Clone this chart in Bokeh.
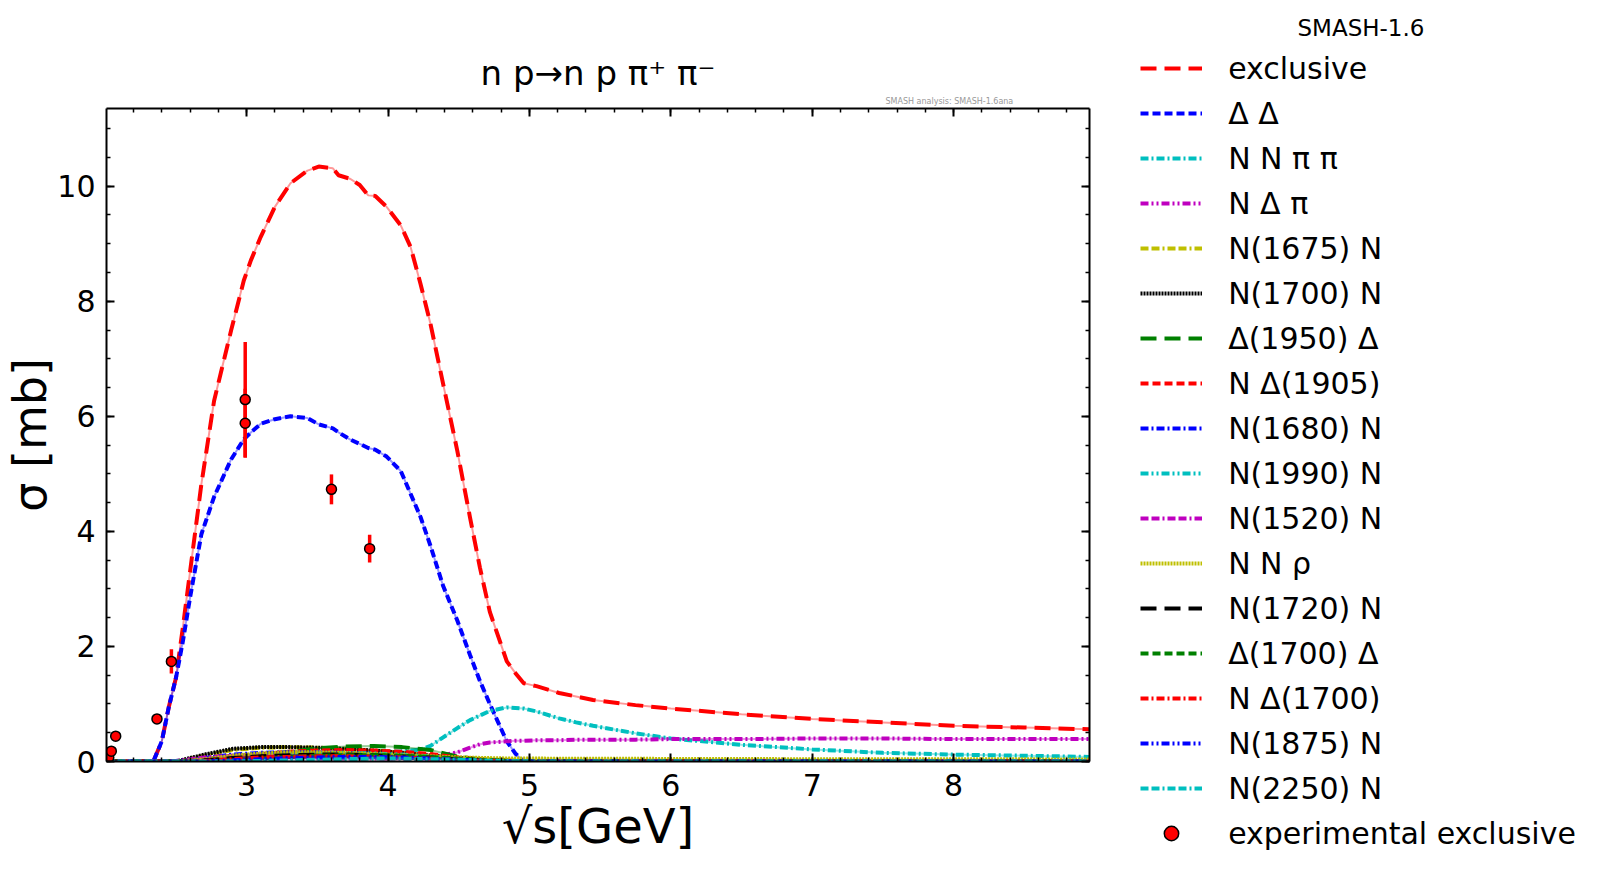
import numpy as np
from bokeh.plotting import figure
from bokeh.models import (Legend, LegendItem, LinearAxis, SingleIntervalTicker, Range1d,
                          Title, ColumnDataSource)
from bokeh.embed import file_html
from bokeh.resources import INLINE

# ---------------- data ----------------
sqrt_s = [2.01, 2.34, 2.40, 2.45, 2.50, 2.55, 2.60, 2.68, 2.77, 2.89, 2.98, 3.03,
          3.10, 3.20, 3.31, 3.43, 3.51, 3.61, 3.65, 3.73, 3.80, 3.86, 3.91, 3.99,
          4.09, 4.16, 4.23, 4.30, 4.39, 4.49, 4.58, 4.65, 4.72, 4.84, 4.90, 4.96,
          5.05, 5.21, 5.33, 5.45, 5.75, 6.0, 6.5, 7.0, 7.5, 8.0, 8.5, 8.96]

exclusive = [0, 0, 0.35, 0.95, 1.45, 2.35, 3.3, 4.82, 6.27, 7.49, 8.36, 8.71,
             9.12, 9.64, 10.05, 10.27, 10.34, 10.31, 10.19, 10.13, 10.02, 9.84, 9.83, 9.64,
             9.32, 8.94, 8.30, 7.61, 6.56, 5.40, 4.24, 3.37, 2.60, 1.74, 1.54, 1.36,
             1.31, 1.19, 1.13, 1.07, 0.98, 0.92, 0.82, 0.74, 0.68, 0.62, 0.59, 0.56]

delta_delta = [0, 0, 0.35, 0.95, 1.45, 2.1, 2.85, 3.95, 4.60, 5.25, 5.60, 5.72,
               5.87, 5.95, 6.00, 5.97, 5.86, 5.79, 5.72, 5.60, 5.52, 5.45, 5.42, 5.30,
               5.05, 4.65, 4.25, 3.75, 3.05, 2.45, 1.85, 1.40, 1.00, 0.35, 0.14, 0,
               0, 0, 0, 0, 0, 0, 0, 0, 0, 0, 0, 0]

nn_pipi = [0, 0, 0, 0, 0.01, 0.02, 0.03, 0.05, 0.07, 0.09, 0.10, 0.11,
           0.11, 0.12, 0.12, 0.13, 0.13, 0.14, 0.14, 0.15, 0.15, 0.16, 0.16, 0.17,
           0.18, 0.19, 0.21, 0.27, 0.42, 0.58, 0.72, 0.80, 0.88, 0.94, 0.93, 0.92,
           0.87, 0.75, 0.68, 0.62, 0.49, 0.40, 0.29, 0.21, 0.15, 0.12, 0.10, 0.08]

n_delta_pi = [0, 0, 0, 0, 0, 0.01, 0.02, 0.03, 0.04, 0.05, 0.05, 0.05,
              0.05, 0.05, 0.05, 0.05, 0.05, 0.05, 0.05, 0.05, 0.05, 0.05, 0.05, 0.05,
              0.06, 0.06, 0.07, 0.08, 0.11, 0.16, 0.24, 0.30, 0.33, 0.35, 0.36, 0.36,
              0.37, 0.37, 0.38, 0.38, 0.38, 0.39, 0.39, 0.40, 0.40, 0.39, 0.39, 0.39]

res_s = [2.01, 2.5, 2.7, 2.9, 3.1, 3.3, 3.5, 3.7, 3.9, 4.1, 4.3, 4.5, 4.7, 4.9,
         5.1, 6.0, 7.0, 8.0, 8.96]

n1675_n = [0, 0, 0.10, 0.20, 0.24, 0.25, 0.24, 0.22, 0.19, 0.15, 0.10, 0.06, 0.03, 0.01, 0, 0, 0, 0, 0]
n1700_n = [0, 0, 0.12, 0.22, 0.25, 0.25, 0.24, 0.22, 0.19, 0.15, 0.10, 0.06, 0.03, 0.01, 0, 0, 0, 0, 0]
d1950_d = [0, 0, 0, 0.03, 0.10, 0.17, 0.23, 0.26, 0.27, 0.25, 0.20, 0.08, 0.03, 0.01, 0, 0, 0, 0, 0]
n_d1905 = [0, 0, 0.03, 0.08, 0.13, 0.17, 0.19, 0.20, 0.19, 0.17, 0.13, 0.07, 0.03, 0.01, 0, 0, 0, 0, 0]
n1680_n = [0, 0, 0.06, 0.12, 0.15, 0.16, 0.16, 0.15, 0.13, 0.10, 0.07, 0.04, 0.02, 0.005, 0, 0, 0, 0, 0]
n1990_n = [0, 0, 0.01, 0.05, 0.09, 0.12, 0.14, 0.15, 0.14, 0.12, 0.09, 0.05, 0.02, 0.005, 0, 0, 0, 0, 0]
n1520_n = [0, 0.01, 0.07, 0.10, 0.10, 0.09, 0.08, 0.07, 0.06, 0.05, 0.04, 0.02, 0.01, 0.005, 0, 0, 0, 0, 0]
nn_rho = [0, 0, 0.04, 0.10, 0.14, 0.16, 0.16, 0.15, 0.13, 0.11, 0.09, 0.07, 0.06, 0.05, 0.05, 0.045, 0.04, 0.04, 0.035]
n1720_n = [0, 0, 0.02, 0.06, 0.09, 0.11, 0.12, 0.12, 0.11, 0.09, 0.07, 0.04, 0.02, 0.005, 0, 0, 0, 0, 0]
d1700_d = [0, 0, 0, 0.02, 0.05, 0.08, 0.10, 0.11, 0.11, 0.10, 0.08, 0.05, 0.02, 0.005, 0, 0, 0, 0, 0]
n_d1700 = [0, 0, 0.01, 0.04, 0.07, 0.08, 0.09, 0.09, 0.08, 0.07, 0.05, 0.03, 0.01, 0, 0, 0, 0, 0, 0]
n1875_n = [0, 0, 0, 0.02, 0.04, 0.06, 0.07, 0.08, 0.08, 0.07, 0.05, 0.03, 0.01, 0, 0, 0, 0, 0, 0]
n2250_n = [0, 0, 0, 0, 0.01, 0.02, 0.03, 0.04, 0.05, 0.05, 0.04, 0.03, 0.015, 0.005, 0, 0, 0, 0, 0]

exp_sqrt_s = [2.025, 2.043, 2.074, 2.366, 2.468, 2.99, 2.99, 3.60, 3.87]
exp_sigma = [0.07, 0.18, 0.44, 0.74, 1.74, 6.29, 5.88, 4.73, 3.70]
exp_err = [0.02, 0.03, 0.04, 0.05, 0.21, 1.00, 0.60, 0.26, 0.24]

# ---------------- styles ----------------
FONT = "DejaVu Sans"
RED, BLUE, CYAN, MAGENTA = "#ff0000", "#0000ff", "#00bfbf", "#bf00bf"
YELLOW, BLACK, GREEN = "#bfbf00", "#000000", "#008000"
LONG, SHORT = "16 8", "8 4"
DASHDOT, DASHDOTDOT, DASHDASHDOT, DOTTED = "8 3 2 3", "8 3 2 3 2 3", "8 3 8 3 2 3", "2 1"

series = [
    ("exclusive", sqrt_s, exclusive, RED, LONG),
    ("Δ Δ", sqrt_s, delta_delta, BLUE, SHORT),
    ("N N π π", sqrt_s, nn_pipi, CYAN, DASHDOT),
    ("N Δ π", sqrt_s, n_delta_pi, MAGENTA, DASHDOTDOT),
    ("N(1675) N", res_s, n1675_n, YELLOW, DASHDASHDOT),
    ("N(1700) N", res_s, n1700_n, BLACK, DOTTED),
    ("Δ(1950) Δ", res_s, d1950_d, GREEN, LONG),
    ("N Δ(1905)", res_s, n_d1905, RED, SHORT),
    ("N(1680) N", res_s, n1680_n, BLUE, DASHDOT),
    ("N(1990) N", res_s, n1990_n, CYAN, DASHDOTDOT),
    ("N(1520) N", res_s, n1520_n, MAGENTA, DASHDASHDOT),
    ("N N ρ", res_s, nn_rho, YELLOW, DOTTED),
    ("N(1720) N", res_s, n1720_n, BLACK, LONG),
    ("Δ(1700) Δ", res_s, d1700_d, GREEN, SHORT),
    ("N Δ(1700)", res_s, n_d1700, RED, DASHDOT),
    ("N(1875) N", res_s, n1875_n, BLUE, DASHDOTDOT),
    ("N(2250) N", res_s, n2250_n, CYAN, DASHDASHDOT),
]

# ---------------- main plot ----------------
p = figure(width=1599, height=866, output_backend="svg", toolbar_location=None,
           title_location=None,
           x_range=Range1d(2.009, 8.961), y_range=Range1d(0, 11.35),
           min_border_left=101, min_border_right=501, min_border_top=108, min_border_bottom=105)
p.outline_line_color = None
p.xgrid.visible = False
p.ygrid.visible = False
p.background_fill_color = "white"
p.border_fill_color = "white"

bottom_axis = p.below[0]
left_axis = p.left[0]
xt = SingleIntervalTicker(interval=1, num_minor_ticks=5)
yt = SingleIntervalTicker(interval=2, num_minor_ticks=4)
bottom_axis.ticker = xt
left_axis.ticker = yt
top_axis = LinearAxis(ticker=xt)
right_axis = LinearAxis(ticker=yt)
p.add_layout(top_axis, "above")
p.add_layout(right_axis, "right")

for ax in [bottom_axis, left_axis, top_axis, right_axis]:
    ax.axis_line_width = 2
    ax.axis_line_color = "black"
    ax.major_tick_in = 8
    ax.major_tick_out = 0
    ax.minor_tick_in = 4
    ax.minor_tick_out = 0
    ax.major_tick_line_width = 2
    ax.minor_tick_line_width = 1.5
    ax.major_label_text_font = FONT
    ax.major_label_text_font_size = "30px"
    ax.major_label_text_color = "black"
for ax in [top_axis, right_axis]:
    ax.major_label_text_font_size = "1px"
    ax.major_label_text_color = None
    ax.major_label_standoff = 0

left_axis.major_label_standoff = 11
left_axis.axis_label = "σ [mb]"
left_axis.axis_label_text_font = FONT
left_axis.axis_label_text_font_size = "46px"
left_axis.axis_label_text_font_style = "normal"
left_axis.axis_label_text_color = "black"
left_axis.axis_label_standoff = -3

bottom_axis.major_label_standoff = 12
bottom_axis.axis_label = "√s[GeV]"
bottom_axis.axis_label_text_font = FONT
bottom_axis.axis_label_text_font_size = "48px"
bottom_axis.axis_label_text_font_style = "normal"
bottom_axis.axis_label_text_color = "black"
bottom_axis.axis_label_standoff = -1

# titles stacked above the frame (nearest first)
p.add_layout(Title(text="SMASH analysis: SMASH-1.6ana", align="left", offset=779,
                   text_font=FONT, text_font_size="8px", text_font_style="normal",
                   text_color="#999999", standoff=5), "above")
p.add_layout(Title(text="n p→n p π⁺ π⁻", align="center",
                   text_font=FONT, text_font_size="34px", text_font_style="normal",
                   text_color="black", standoff=0), "above")
p.add_layout(Title(text="SMASH-1.6", align="left", offset=1191,
                   text_font=FONT, text_font_size="23px", text_font_style="normal",
                   text_color="black", standoff=19), "above")

items = []
for label, xs, ys, color, dash in series:
    p.line(xs, ys, line_color=color, line_width=2, line_alpha=0.4)
    r = p.line(xs, ys, line_color=color, line_width=4, line_dash=dash)
    items.append(LegendItem(label=label, renderers=[r]))

lo = np.array(exp_sigma) - np.array(exp_err)
hi = np.array(exp_sigma) + np.array(exp_err)
exp_src = ColumnDataSource(dict(x=exp_sqrt_s, y=exp_sigma, lo=lo, hi=hi))
p.segment(x0="x", y0="lo", x1="x", y1="hi", source=exp_src, line_color=RED, line_width=3.5)
pts = p.scatter("x", "y", source=exp_src, marker="circle", size=10,
                fill_color=RED, line_color=BLACK, line_width=1.5)
items.append(LegendItem(label="experimental exclusive", renderers=[pts]))

legend = Legend(items=items, location=(14, -90), glyph_width=62, glyph_height=36,
                label_height=36, label_standoff=26, spacing=9, padding=0, margin=-182,
                border_line_color=None, background_fill_alpha=0,
                label_text_font=FONT, label_text_font_size="30px", label_text_color="black")
p.add_layout(legend, "right")

open("out.html", "w").write(file_html(p, INLINE))
